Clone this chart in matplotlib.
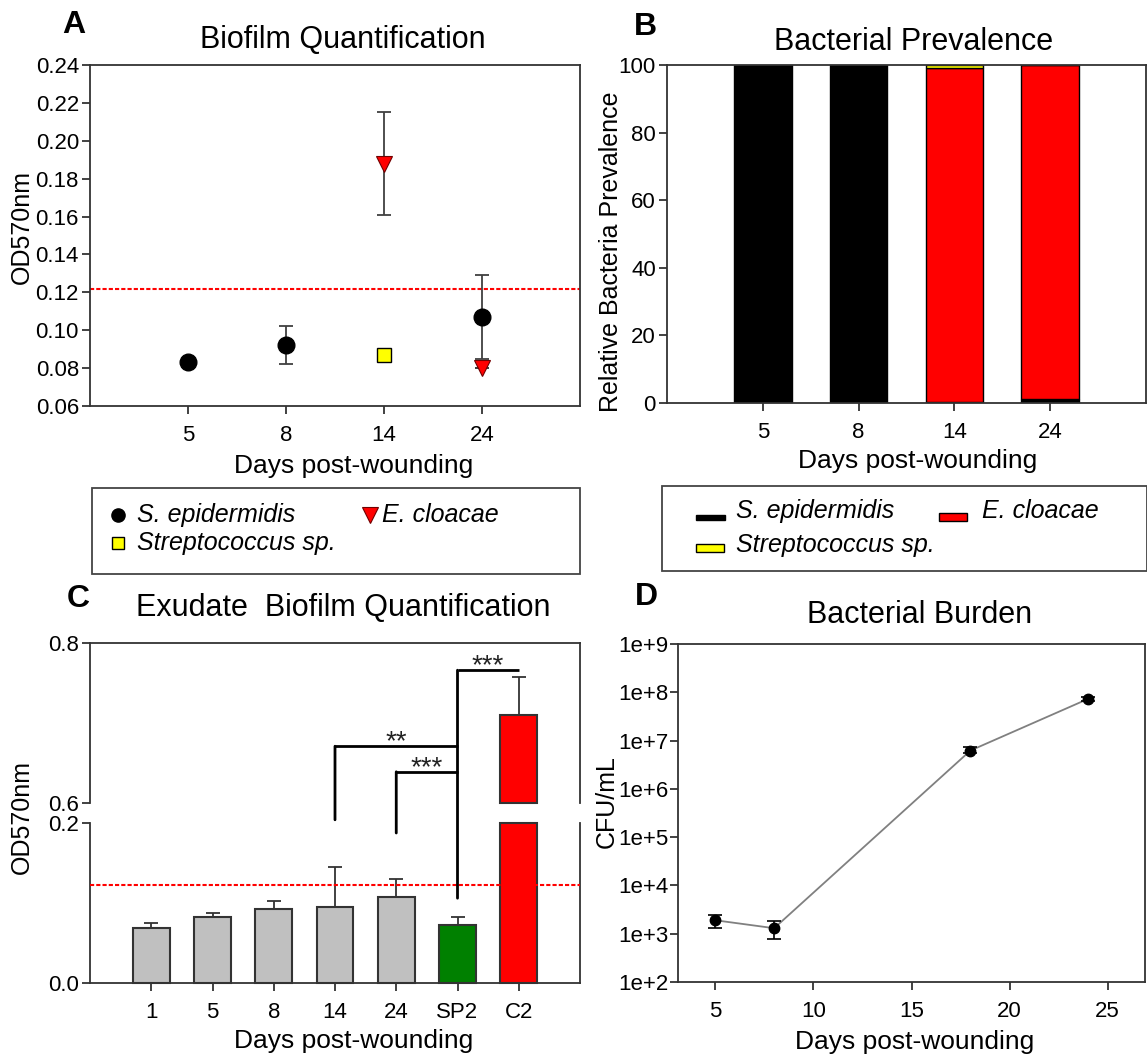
import numpy as np
import matplotlib
matplotlib.use("Agg")
import matplotlib.pyplot as plt
from matplotlib.patches import ConnectionPatch, Rectangle
from matplotlib.lines import Line2D
from matplotlib.ticker import FormatStrFormatter, FuncFormatter, NullLocator

plt.rcParams["font.family"] = ["Liberation Sans", "DejaVu Sans"]

W, H = 1147, 1061

# ── data ─────────────────────────────────────────────────────────────────────
# A: biofilm quantification per isolate
a_days        = ["5", "8", "14", "24"]
a_sepi_days   = ["5", "8", "24"]
a_sepi_vals   = [0.083, 0.092, 0.107]
a_sepi_err    = [0.0, 0.010, 0.022]
a_eclo_days   = ["14", "24"]
a_eclo_vals   = [0.188, 0.080]
a_eclo_err    = [0.027, 0.0]
a_strep_days  = ["14"]
a_strep_vals  = [0.087]
cutoff        = 0.122

# B: relative prevalence (%)
b_days  = ["5", "8", "14", "24"]
b_sepi  = [100, 100, 0.3, 1.3]
b_eclo  = [0, 0, 98.7, 98.7]
b_strep = [0, 0, 1.0, 0]

# C: exudate biofilm
c_labels = ["1", "5", "8", "14", "24", "SP2", "C2"]
c_vals   = [0.069, 0.083, 0.092, 0.095, 0.107, 0.073, 0.710]
c_err    = [0.006, 0.004, 0.011, 0.050, 0.023, 0.009, 0.048]
c_colors = ["#c0c0c0"] * 5 + ["#008000", "#ff0000"]
# brackets: (from, to, y, label)
c_brackets = [("14", "SP2", 0.671, "**"),
              ("24", "SP2", 0.639, "***"),
              ("SP2", "C2", 0.766, "***")]
# legs: (group, y top, y bottom)
c_legs = [("14", 0.671, 0.204), ("24", 0.639, 0.1875), ("SP2", 0.766, 0.106)]

# D: bacterial burden
d_days = [5, 8, 18, 24]
d_vals = [1.9e3, 1.3e3, 6.2e6, 7.3e7]
d_lo   = [1.3e3, 7.8e2, 5.4e6, 6.6e7]
d_hi   = [2.45e3, 1.8e3, 7.4e6, 8.1e7]

# ── helpers ──────────────────────────────────────────────────────────────────
SPINE = "#333333"


def box(l, t, r, b):
    return [l / W, 1 - b / H, (r - l) / W, (b - t) / H]


def fx(x):
    return x / W


def fy(y):
    return 1 - y / H


def style(ax):
    for s in ax.spines.values():
        s.set_color(SPINE)
        s.set_linewidth(1.3)
    ax.tick_params(direction="out", length=6, width=1.3, color=SPINE,
                   labelsize=16, labelcolor="black")
    ax.tick_params(axis="x", pad=8)
    ax.tick_params(axis="y", pad=2)


fig = plt.figure(figsize=(W / 100, H / 100), dpi=100)

# ── Panel A ──────────────────────────────────────────────────────────────────
axA = fig.add_axes(box(90, 65, 580, 406))
style(axA)
xs = [a_days.index(d) + 1 for d in a_sepi_days]
axA.errorbar(xs, a_sepi_vals, yerr=a_sepi_err, fmt="none", ecolor="#404040",
             elinewidth=1.3, capsize=5, capthick=1.3, zorder=2)
axA.plot(xs, a_sepi_vals, "o", ms=12, color="black", zorder=3)
xe = [a_days.index(d) + 1 for d in a_eclo_days]
axA.errorbar(xe, a_eclo_vals, yerr=a_eclo_err, fmt="none", ecolor="#404040",
             elinewidth=1.3, capsize=5, capthick=1.3, zorder=2)
axA.plot(xe, a_eclo_vals, "v", ms=12, mfc="#ff0000", mec="#700000", mew=0.8, zorder=3)
xst = [a_days.index(d) + 1 for d in a_strep_days]
axA.plot(xst, a_strep_vals, "s", ms=10, mfc="#ffff00", mec="black", mew=1, zorder=3)
axA.axhline(cutoff, color="#ff0000", lw=1.5, dashes=(2, 1), zorder=1)
axA.set_xlim(0, 5)
axA.set_xticks(range(1, len(a_days) + 1))
axA.set_xticklabels(a_days)
axA.set_ylim(0.06, 0.24)
axA.set_yticks(np.arange(0.06, 0.241, 0.02))
axA.yaxis.set_major_formatter(FormatStrFormatter("%.2f"))

# ── Panel B ──────────────────────────────────────────────────────────────────
axB = fig.add_axes(box(667, 65, 1146, 403))
style(axB)
xb = np.arange(1, len(b_days) + 1)
sepi = np.array(b_sepi, float)
eclo = np.array(b_eclo, float)
strep = np.array(b_strep, float)
axB.bar(xb, sepi, 0.6, color="black", edgecolor="black", lw=1)
axB.bar(xb, eclo, 0.6, bottom=sepi, color="#ff0000", edgecolor="black", lw=1)
axB.bar(xb, strep, 0.6, bottom=sepi + eclo, color="#ffff00", edgecolor="black", lw=1)
axB.set_xlim(0, 5)
axB.set_xticks(xb)
axB.set_xticklabels(b_days)
axB.set_ylim(0, 100)
axB.set_yticks(range(0, 101, 20))

# ── Panel C (broken axis) ────────────────────────────────────────────────────
axCt = fig.add_axes(box(90, 643, 580, 803))
axCb = fig.add_axes(box(90, 823, 580, 983))
style(axCt)
style(axCb)
xc = np.arange(1, len(c_labels) + 1)
vals = np.array(c_vals)
errs = np.array(c_err)

axCb.bar(xc, np.minimum(vals, 0.2), 0.6, color=c_colors, edgecolor=SPINE,
         lw=1.5, zorder=2, clip_on=False)
axCb.errorbar(xc, vals, yerr=[np.zeros_like(errs), errs], fmt="none",
              ecolor=SPINE, elinewidth=1.3, capsize=5, capthick=1.3, zorder=1)
hi = vals > 0.6
axCt.bar(xc[hi], vals[hi] - 0.6, 0.6, bottom=0.6, color=np.array(c_colors)[hi],
         edgecolor=SPINE, lw=1.5, zorder=2, clip_on=False)
axCt.errorbar(xc, vals, yerr=[np.zeros_like(errs), errs], fmt="none",
              ecolor=SPINE, elinewidth=1.3, capsize=5, capthick=1.3, zorder=1)
axCb.axhline(cutoff, color="#ff0000", lw=1.5, dashes=(2, 1), zorder=3)

axCt.set_ylim(0.6, 0.8)
axCt.set_yticks([0.6, 0.8])
axCb.set_ylim(0, 0.2)
axCb.set_yticks([0.0, 0.2])
for ax in (axCt, axCb):
    ax.set_xlim(0, 8)
    ax.yaxis.set_major_formatter(FormatStrFormatter("%.1f"))
axCt.spines["bottom"].set_visible(False)
axCt.set_xticks([])
axCb.spines["top"].set_visible(False)
axCb.set_xticks(xc)
axCb.set_xticklabels(c_labels)

for g1, g2, y, lab in c_brackets:
    x1, x2 = c_labels.index(g1) + 1, c_labels.index(g2) + 1
    axCt.plot([x1, x2], [y, y], color="black", lw=2, solid_capstyle="butt",
              clip_on=False)
    axCt.text((x1 + x2) / 2, y - 0.004, lab, ha="center", va="baseline",
              fontsize=20, color="#222222")
for g, y1, y2 in c_legs:
    x = c_labels.index(g) + 1
    con = ConnectionPatch(xyA=(x, y1), coordsA=axCt.transData,
                          xyB=(x, y2), coordsB=axCb.transData,
                          color="black", lw=2)
    fig.add_artist(con)

# ── Panel D ──────────────────────────────────────────────────────────────────
axD = fig.add_axes(box(678, 644, 1145, 982))
style(axD)
dv = np.array(d_vals)
axD.plot(d_days, dv, "-", color="#808080", lw=1.3, zorder=1)
axD.errorbar(d_days, dv, yerr=[dv - np.array(d_lo), np.array(d_hi) - dv],
             fmt="none", ecolor="black", elinewidth=1.2, capsize=5, capthick=1.2, zorder=2)
axD.plot(d_days, dv, "o", ms=7.5, color="black", zorder=3)
axD.set_yscale("log")
axD.set_ylim(1e2, 1e9)
axD.set_yticks([10.0 ** k for k in range(2, 10)])
axD.yaxis.set_major_formatter(FuncFormatter(lambda v, p: f"1e+{int(round(np.log10(v)))}"))
axD.yaxis.set_minor_locator(NullLocator())
axD.set_xlim(3.1, 26.9)
axD.set_xticks([5, 10, 15, 20, 25])
axD.tick_params(axis="y", pad=1)

# ── titles, labels, panel letters ────────────────────────────────────────────
TFS, LFS, YFS = 22, 19, 18
fig.text(fx(343), fy(48), "Biofilm Quantification", ha="center", va="baseline", fontsize=TFS)
fig.text(fx(914), fy(50), "Bacterial Prevalence", ha="center", va="baseline", fontsize=TFS)
fig.text(fx(343), fy(616), "Exudate  Biofilm Quantification", ha="center", va="baseline", fontsize=TFS)
fig.text(fx(920), fy(623), "Bacterial Burden", ha="center", va="baseline", fontsize=TFS)

fig.text(fx(354), fy(473), "Days post-wounding", ha="center", va="baseline", fontsize=LFS)
fig.text(fx(918), fy(468), "Days post-wounding", ha="center", va="baseline", fontsize=LFS)
fig.text(fx(354), fy(1048), "Days post-wounding", ha="center", va="baseline", fontsize=LFS)
fig.text(fx(915), fy(1049), "Days post-wounding", ha="center", va="baseline", fontsize=LFS)

fig.text(fx(22), fy(227), "OD570nm", rotation=90, ha="center", va="center", fontsize=YFS)
fig.text(fx(611), fy(252), "Relative Bacteria Prevalence", rotation=90, ha="center", va="center", fontsize=YFS)
fig.text(fx(22), fy(817), "OD570nm", rotation=90, ha="center", va="center", fontsize=YFS)
fig.text(fx(607), fy(802), "CFU/mL", rotation=90, ha="center", va="center", fontsize=YFS)

for lx, ly, let in [(74, 33, "A"), (645, 35, "B"), (78, 607, "C"), (646, 605, "D")]:
    fig.text(fx(lx), fy(ly), let, ha="center", va="baseline", fontsize=23, fontweight="bold")

# ── legends ──────────────────────────────────────────────────────────────────
fig.add_artist(Rectangle((fx(92), fy(574)), fx(580 - 92), (574 - 488) / H,
                         transform=fig.transFigure, fill=False, ec="#444444", lw=1.3))
fig.add_artist(Rectangle((fx(662), fy(571)), fx(1147 - 662), (571 - 486) / H,
                         transform=fig.transFigure, fill=False, ec="#444444", lw=1.3))

LGFS = 18
legA = [(118, 515, dict(marker="o", ms=9.5, color="black"), 137, "S. epidermidis"),
        (370, 515, dict(marker="v", ms=12, mfc="#ff0000", mec="#700000", mew=0.8), 382, "E. cloacae"),
        (118, 543, dict(marker="s", ms=8.5, mfc="#ffff00", mec="black", mew=1), 137, "Streptococcus sp.")]
for mx, my, kw, tx, lab in legA:
    fig.add_artist(Line2D([fx(mx)], [fy(my)], transform=fig.transFigure, ls="none", **kw))
    fig.text(fx(tx), fy(my), lab, ha="left", va="center", fontsize=LGFS, style="italic")

legB = [(696, 515, 29, 5, "black", 736, 511, "S. epidermidis"),
        (939, 513, 28, 8, "#ff0000", 982, 511, "E. cloacae"),
        (696, 544, 28, 8, "#ffff00", 736, 545, "Streptococcus sp.")]
for rx, ry, rw, rh, col, tx, ty, lab in legB:
    fig.add_artist(Rectangle((fx(rx), fy(ry + rh)), rw / W, rh / H, transform=fig.transFigure,
                             fc=col, ec="black", lw=1))
    fig.text(fx(tx), fy(ty), lab, ha="left", va="center", fontsize=LGFS, style="italic")

fig.savefig("out.png", dpi=100)
